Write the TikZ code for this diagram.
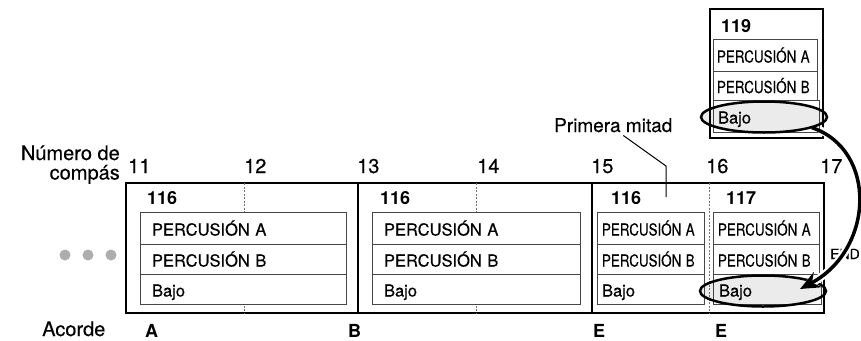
\documentclass[tikz,border=0pt]{standalone}
\usepackage{fontspec}
\setmainfont{TeX Gyre Heros}[UprightFeatures={FakeBold=0.3}]
\usepackage{graphicx}
\usetikzlibrary{shapes.geometric,arrows.meta}
\newcommand\mylbl{\fontsize{20}{14}\selectfont}
\newcommand\mybox{\fontsize{16.5}{18}\selectfont}
\newcommand\mynum{\fontsize{18}{18}\selectfont\bfseries}
\newcommand\mycnd[1]{\scalebox{0.81}[1]{#1}}
\begin{document}
\begin{tikzpicture}[x=1pt,y=-1pt,
  seg/.style={draw=black, line width=1.6pt, anchor=north west, inner sep=0pt, outer sep=0pt},
  bar/.style={draw=black!55, line width=0.8pt, dash pattern=on 2pt off 1.5pt},
  rowbox/.style={draw=black!72, line width=0.9pt, fill=white, anchor=north west, inner ysep=0pt, outer sep=0pt, align=left, font=\mybox, text height=15pt, text depth=0pt},
  tnum/.style={anchor=base west, inner sep=0pt, font=\mynum},
  lbl/.style={inner sep=0pt, font=\mylbl},
  hl/.style={ellipse, draw=black, line width=2.5pt, fill=black!8, blend mode=multiply, minimum width=126pt, minimum height=31pt, inner sep=0pt},
  dot/.style={circle, fill=black!32, minimum size=11pt, inner sep=0pt},
  halo/.style={draw=white, line width=8pt},
  bigarrow/.style={draw=black, line width=3.5pt}
]
\useasboundingbox (0,0) rectangle (861,340);

% measure frames
\node[seg, minimum width=232pt, minimum height=130pt] (s1) at (126,183) {};
\node[seg, minimum width=234pt, minimum height=130pt] (s2) at (358,183) {};
\node[seg, minimum width=232pt, minimum height=130pt] (s3) at (592,183) {};
\node[seg, minimum width=113pt, minimum height=129pt] (s4) at (710,9) {};

% dashed beat lines
\draw[bar] ([xshift=2pt]s1.north) -- ([xshift=2pt]s1.south);
\draw[bar] ([xshift=1pt]s2.north) -- ([xshift=1pt]s2.south);
\draw[bar] ([xshift=1pt]s3.north) -- ([xshift=1pt]s3.south);

% segment 1 rows
\node[rowbox, text width=182pt, inner xsep=12pt, minimum height=32pt] (a1) at (140,212) {PERCUSIÓN A};
\node[rowbox, text width=182pt, inner xsep=12pt, minimum height=30pt] (a2) at (140,244) {PERCUSIÓN B};
\node[rowbox, text width=182pt, inner xsep=12pt, minimum height=30pt] (a3) at (140,274) {Bajo};
% segment 2 rows
\node[rowbox, text width=184pt, inner xsep=12pt, minimum height=32pt] (b1) at (372,212) {PERCUSIÓN A};
\node[rowbox, text width=184pt, inner xsep=12pt, minimum height=30pt] (b2) at (372,244) {PERCUSIÓN B};
\node[rowbox, text width=184pt, inner xsep=12pt, minimum height=30pt] (b3) at (372,274) {Bajo};
% segment 3a rows
\node[rowbox, text width=97pt, inner xsep=5pt, minimum height=32pt] (c1) at (597,212) {\mycnd{PERCUSIÓN A}};
\node[rowbox, text width=97pt, inner xsep=5pt, minimum height=30pt] (c2) at (597,244) {\mycnd{PERCUSIÓN B}};
\node[rowbox, text width=97pt, inner xsep=5pt, minimum height=30pt] (c3) at (597,274) {Bajo};
% segment 3b rows
\node[rowbox, text width=96pt, inner xsep=5pt, minimum height=32pt] (d1) at (713,212) {\mycnd{PERCUSIÓN A}};
\node[rowbox, text width=96pt, inner xsep=5pt, minimum height=30pt] (d2) at (713,244) {\mycnd{PERCUSIÓN B}};
\node[rowbox, text width=96pt, inner xsep=6pt, minimum height=30pt] (d3) at (713,274) {Bajo};
% top block rows
\node[rowbox, text width=96pt, inner xsep=4pt, minimum height=32pt] (t1) at (713,39) {\mycnd{PERCUSIÓN A}};
\node[rowbox, text width=96pt, inner xsep=4pt, minimum height=29pt] (t2) at (713,71) {\mycnd{PERCUSIÓN B}};
\node[rowbox, text width=96pt, inner xsep=5pt, minimum height=32pt] (t3) at (713,100) {Bajo};

% pattern numbers
\node[tnum] (p1) at (147,204) {116};
\node[tnum] (p2) at (380,204) {116};
\node[tnum] (p3) at (611,204) {116};
\node[tnum] (p4) at (726,204) {117};
\node[tnum] (p5) at (721,32) {119};

% highlight ellipses
\node[hl] (eT) at (764,117) {};
\node[hl] (eB) at (763,291) {};

% END label
\node[anchor=base west, inner sep=0pt, font=\fontsize{14}{14}\selectfont] (endl) at (830,259) {END};

% curved arrow with white halo
\draw[halo, shorten <=8pt, -{Stealth[length=20pt,width=17pt]}] ([xshift=-2pt]eT.-12) .. controls (878,150) and (874,250) .. ([xshift=37pt,yshift=2pt]eB.center);
\draw[bigarrow, -{Stealth[length=20pt,width=17pt]}] ([xshift=-2pt]eT.-12) .. controls (878,150) and (874,250) .. ([xshift=37pt,yshift=2pt]eB.center);

% measure numbers
\node[lbl, anchor=base west] (m11) at (128,173) {11};
\node[lbl, anchor=base west] (m12) at (244,173) {12};
\node[lbl, anchor=base west] (m13) at (357,173) {13};
\node[lbl, anchor=base west] (m14) at (477,173) {14};
\node[lbl, anchor=base west] (m15) at (591,173) {15};
\node[lbl, anchor=base west] (m16) at (706,173) {16};
\node[lbl, anchor=base west] (m17) at (820,173) {17};

% left labels
\node[lbl, anchor=base east] (nl1) at (120,160) {Número de};
\node[lbl, anchor=base east] (nl2) at (120,179.5) {compás};
\node[lbl, anchor=base west] (acl) at (42,336) {Acorde};

% chords
\node[tnum] (chA) at (145,337) {A};
\node[tnum] (chB) at (348,337) {B};
\node[tnum] (chE1) at (593,337) {E};
\node[tnum] (chE2) at (715,337) {E};

% dots
\node[dot] (dt1) at (65,255) {};
\node[dot] (dt2) at (88,255) {};
\node[dot] (dt3) at (111,255) {};

% Primera mitad leader
\node[lbl, anchor=base west, font=\fontsize{19}{19}\selectfont] (pm) at (554,132) {Primera mitad};
\coordinate (pmk) at (666,166);
\coordinate (pme) at (666,197);
\draw[line width=1pt] ([xshift=10pt,yshift=-3pt]pm.south) -- (pmk) -- (pme);
\end{tikzpicture}
\end{document}
